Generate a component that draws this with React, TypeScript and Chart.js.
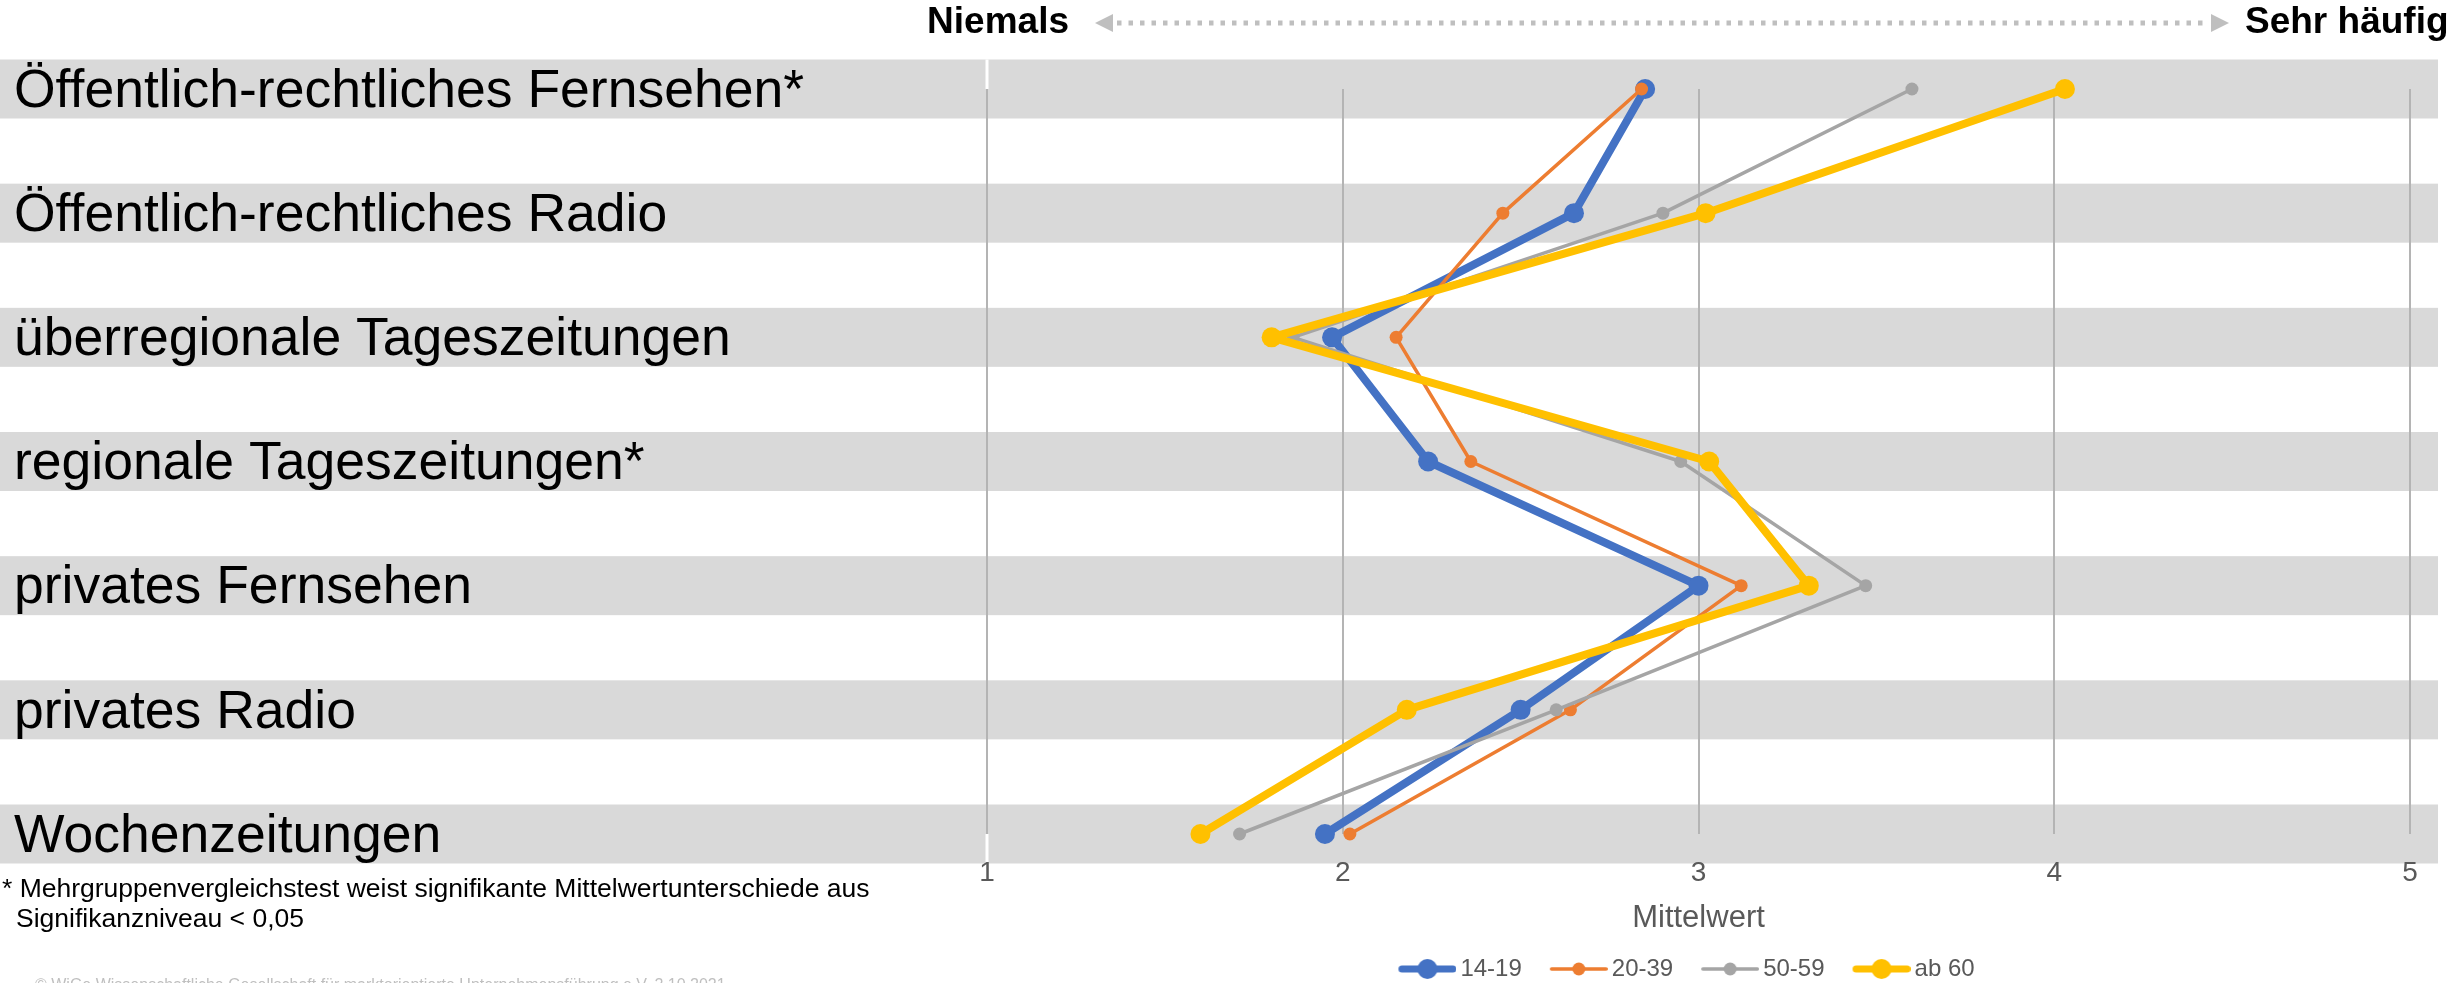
import React, { useEffect, useRef } from 'react';
import { Chart, registerables } from 'chart.js';

Chart.register(...registerables);

const categories = [
  'Öffentlich-rechtliches Fernsehen*',
  'Öffentlich-rechtliches Radio',
  'überregionale Tageszeitungen',
  'regionale Tageszeitungen*',
  'privates Fernsehen',
  'privates Radio',
  'Wochenzeitungen',
];

const seriesNames = ['14-19', '20-39', '50-59', 'ab 60'];

const values14to19 = [2.85, 2.65, 1.97, 2.24, 3.0, 2.5, 1.95];
const values20to39 = [2.84, 2.45, 2.15, 2.36, 3.12, 2.64, 2.02];
const values50to59 = [3.6, 2.9, 1.86, 2.95, 3.47, 2.6, 1.71];
const valuesAb60 = [4.03, 3.02, 1.8, 3.03, 3.31, 2.18, 1.6];

const axisMin = 1;
const axisMax = 5;
const axisStep = 1;

const headerLeft = 'Niemals';
const headerRight = 'Sehr häufig';
const axisTitle = 'Mittelwert';
const footnote1 = '* Mehrgruppenvergleichstest weist signifikante Mittelwertunterschiede aus';
const footnote2 = 'Signifikanzniveau < 0,05';
const copyright =
  '© WiGe Wissenschaftliche Gesellschaft für marktorientierte Unternehmensführung e.V. 2.10.2021';

const FONT = '"Liberation Sans", Arial, Helvetica, sans-serif';

const COLORS = ['#4472C4', '#ED7D31', '#A5A5A5', '#FFC000'];
const WIDTHS = [8, 3.5, 3.5, 8];
const RADII = [10, 6.5, 6.5, 10];

function makeIcon(color: string, lineW: number, radius: number) {
  const c = document.createElement('canvas');
  c.width = 90;
  c.height = 26;
  const g = c.getContext('2d')!;
  g.strokeStyle = color;
  g.fillStyle = color;
  g.lineWidth = lineW;
  g.lineCap = 'round';
  g.beginPath();
  g.moveTo(32 + lineW / 2, 13);
  g.lineTo(90 - lineW / 2, 13);
  g.stroke();
  g.beginPath();
  g.arc(61, 13, radius, 0, Math.PI * 2);
  g.fill();
  return c;
}

const decorPlugin = {
  id: 'decor',
  afterLayout(chart: any) {
    const lg = chart.legend;
    if (lg) {
      lg.left -= 24;
      lg.right -= 24;
    }
  },
  beforeDraw(chart: any) {
    const { ctx, chartArea } = chart;
    const xs = chart.scales.x;
    const ys = chart.scales.y;
    ctx.save();
    // horizontal bands behind each category
    const half = 29.5;
    const bandRight = xs.right + 28;
    ctx.fillStyle = '#D9D9D9';
    categories.forEach((_, i) => {
      const cy = ys.getPixelForValue(i);
      ctx.fillRect(0, cy - half, bandRight, half * 2);
    });
    // white axis line crossing the bands beyond the plot area
    const x0 = xs.getPixelForValue(axisMin);
    ctx.strokeStyle = '#FFFFFF';
    ctx.lineWidth = 3;
    ctx.beginPath();
    ctx.moveTo(x0, ys.getPixelForValue(0) - half);
    ctx.lineTo(x0, chartArea.top);
    ctx.moveTo(x0, chartArea.bottom);
    ctx.lineTo(x0, ys.getPixelForValue(categories.length - 1) + half);
    ctx.stroke();

    // header
    const L = chartArea.left;
    ctx.fillStyle = '#000000';
    ctx.font = `bold 37px ${FONT}`;
    ctx.textBaseline = 'alphabetic';
    ctx.textAlign = 'right';
    ctx.fillText(headerLeft, L + 82, 33);
    ctx.textAlign = 'left';
    ctx.fillText(headerRight, L + 1258, 33);

    // dotted double arrow
    const aL = L + 108;
    const aR = L + 1242;
    const ay = 23;
    ctx.fillStyle = '#BFBFBF';
    ctx.beginPath();
    ctx.moveTo(aL, ay);
    ctx.lineTo(aL + 18, ay - 9);
    ctx.lineTo(aL + 18, ay + 9);
    ctx.closePath();
    ctx.fill();
    ctx.beginPath();
    ctx.moveTo(aR, ay);
    ctx.lineTo(aR - 18, ay - 9);
    ctx.lineTo(aR - 18, ay + 9);
    ctx.closePath();
    ctx.fill();
    ctx.strokeStyle = '#BFBFBF';
    ctx.lineWidth = 5;
    ctx.setLineDash([4.5, 7]);
    ctx.beginPath();
    ctx.moveTo(aL + 22, ay);
    ctx.lineTo(aR - 22, ay);
    ctx.stroke();
    ctx.setLineDash([]);

    // footnote
    ctx.fillStyle = '#000000';
    ctx.font = `26.5px ${FONT}`;
    ctx.textAlign = 'left';
    ctx.fillText(footnote1, 2, 897);
    ctx.fillText(footnote2, 16, 927);

    ctx.fillStyle = '#BFBFBF';
    ctx.font = `16px ${FONT}`;
    ctx.fillText(copyright, 35, 990);
    ctx.restore();
  },
};

export default function App() {
  const ref = useRef<HTMLCanvasElement | null>(null);

  useEffect(() => {
    document.body.style.margin = '0';
    document.body.style.overflow = 'hidden';
    Chart.defaults.font.family = FONT;
    const icons = COLORS.map((c, i) => makeIcon(c, i === 0 || i === 3 ? 7 : 3.5, RADII[i]));
    const seriesValues = [values14to19, values20to39, values50to59, valuesAb60];

    const datasets = seriesNames.map((name, i) => ({
      label: name,
      data: seriesValues[i],
      borderColor: COLORS[i],
      backgroundColor: COLORS[i],
      pointBackgroundColor: COLORS[i],
      pointBorderColor: COLORS[i],
      borderWidth: WIDTHS[i],
      pointRadius: RADII[i],
      pointHoverRadius: RADII[i],
      pointBorderWidth: 0,
      borderJoinStyle: 'round' as const,
      borderCapStyle: 'round' as const,
      tension: 0,
      fill: false,
      clip: false as any,
      order: seriesNames.length - i,
    }));

    const leftPad = 14;

    const chart = new Chart(ref.current!, {
      type: 'line',
      data: { labels: categories, datasets },
      options: {
        indexAxis: 'y',
        animation: false,
        responsive: false,
        layout: { padding: { left: leftPad, right: 43, top: 89, bottom: -8 } },
        scales: {
          x: {
            type: 'linear',
            min: axisMin,
            max: axisMax,
            ticks: {
              stepSize: axisStep,
              padding: 25,
              color: '#595959',
              font: { size: 28, lineHeight: 1 },
            },
            grid: { color: '#B4B4B4', lineWidth: 2, drawTicks: false },
            border: { display: false },
            title: {
              display: true,
              text: axisTitle,
              color: '#595959',
              font: { size: 31, lineHeight: 1 },
              padding: { top: -9.5, bottom: 19.5 },
            },
          },
          y: {
            type: 'category',
            offset: false,
            grid: { display: false },
            border: { display: false },
            ticks: {
              crossAlign: 'far',
              autoSkip: false,
              labelOffset: 3,
              color: '#000000',
              font: { size: 53.5 },
            },
            afterFit: (s: any) => {
              s.width = 987 - leftPad;
            },
          },
        },
        plugins: {
          tooltip: { enabled: false },
          title: { display: false },
          legend: {
            position: 'bottom',
            fullSize: false,
            labels: {
              usePointStyle: true,
              pointStyleWidth: 74,
              padding: 4,
              color: '#595959',
              font: { size: 24 },
              generateLabels: (c: any) => {
                const items = (Chart.defaults.plugins.legend.labels as any).generateLabels(c);
                items.sort((a: any, b: any) => a.datasetIndex - b.datasetIndex);
                items.forEach((it: any) => {
                  it.pointStyle = icons[it.datasetIndex];
                  it.fontColor = '#595959';
                });
                return items;
              },
            },
          },
        },
      } as any,
      plugins: [decorPlugin],
    });
    return () => chart.destroy();
  }, []);

  return <canvas ref={ref} width={2453} height={983} style={{ display: 'block' }} />;
}
